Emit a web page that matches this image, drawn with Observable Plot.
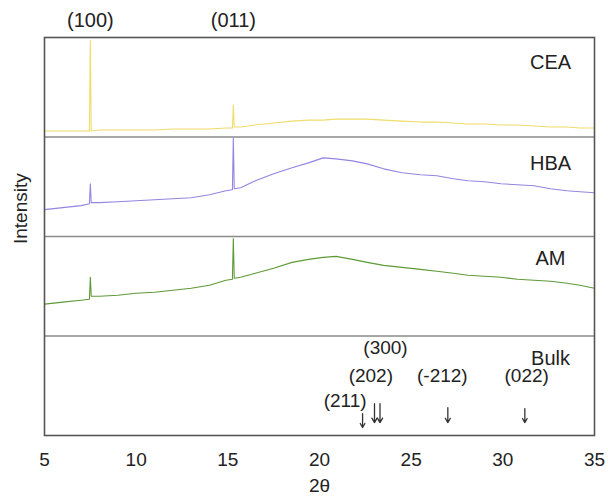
<!DOCTYPE html>
<html>
<head>
<meta charset="utf-8">
<script src="https://cdn.jsdelivr.net/npm/d3@7"></script>
<script src="https://cdn.jsdelivr.net/npm/@observablehq/plot@0.6"></script>
<style>
  html, body { margin: 0; padding: 0; background: #fff; }
  #chart { width: 608px; height: 496px; }
</style>
</head>
<body>
<div id="chart"></div>
<script>
// 2θ sample positions (degrees)
const twoTheta = [5, 6, 7, 7.45, 7.5, 7.55, 8, 9, 10, 11, 12, 13, 14, 14.9, 15.25, 15.3, 15.35, 15.7, 16.5, 17.5, 18.5, 19.4, 20.2, 20.9, 21.8, 22.6, 23.5, 24.5, 25.5, 26.4, 27.3, 28.1, 29, 29.9, 30.8, 31.7, 32.6, 33.5, 34.2, 35];
// intensities (arbitrary units, each panel spans 100)
const ceaI = [6, 6, 6, 6, 97, 6, 7, 7, 7, 7, 8, 8, 8, 9, 9, 32, 10, 10, 12, 14, 16, 17, 17, 18, 18, 18, 17, 16, 15, 15, 14, 13, 13, 12, 12, 11, 10, 10, 9, 9];
const hbaI = [27, 29, 31, 33, 53, 34, 34, 35, 36, 37, 38, 39, 42, 46, 47, 99, 48, 49, 56, 63, 69, 74, 79, 78, 76, 73, 68, 64, 62, 61, 58, 56, 55, 53, 52, 51, 48, 46, 45, 44];
const amI  = [32, 34, 36, 37, 59, 40, 40, 41, 43, 44, 46, 48, 51, 56, 57, 98, 58, 59, 63, 68, 74, 77, 79, 80, 77, 74, 71, 69, 67, 65, 63, 61, 60, 59, 57, 56, 55, 53, 51, 48];

const seriesNames = ["CEA", "HBA", "AM", "Bulk"];
const seriesOffsets = [300, 200, 100, 0];
const seriesColors = ["#f0dc6a", "#9683e2", "#5e9a36"];

// labelled reflections
const topPeakLabels = ["(100)", "(011)"];
const topPeakPos = [7.5, 15.3];

const bulkLabels = ["(211)", "(202)", "(300)", "(-212)", "(022)"];
const bulkPos = [22.35, 23.0, 23.3, 27.0, 31.2];

const xTicks = [5, 10, 15, 20, 25, 30, 35];

// build table
const curves = [ceaI, hbaI, amI];
const rows = [];
curves.forEach((arr, k) => {
  arr.forEach((v, i) => rows.push({t: twoTheta[i], v: v + seriesOffsets[k], s: seriesNames[k]}));
});

// layout helpers (not data)
const arrowTop = [22, 32, 32, 28, 27];
const arrowBot = [8, 13, 13, 13, 13];
const bulkLabelX = [21.4, 22.8, 23.6, 26.7, 31.3];
const bulkLabelY = [35, 60, 88, 60, 60];
const bulkArrows = bulkLabels.map((l, i) => ({l, t: bulkPos[i], y1: arrowTop[i], y2: arrowBot[i]}));
const bulkText = bulkLabels.map((l, i) => ({l, x: bulkLabelX[i], y: bulkLabelY[i]}));
const panelText = seriesNames.map((n, i) => ({n, y: seriesOffsets[i] + [75, 73, 78, 77][i]}));

const font = "'Liberation Sans', Arial, sans-serif";

const chart = Plot.plot({
  width: 608,
  height: 496,
  marginTop: 37,
  marginRight: 14,
  marginBottom: 61,
  marginLeft: 44,
  style: {fontFamily: font, fontSize: "17px", color: "#222", background: "#fff"},
  x: {domain: [5, 35]},
  y: {domain: [0, 400], axis: null},
  color: {domain: seriesNames.slice(0, 3), range: seriesColors},
  marks: [
    Plot.ruleY([100, 200, 300], {stroke: "#8a8a8a", strokeWidth: 1.3}),
    Plot.line(rows, {x: "t", y: "v", z: "s", stroke: "s", strokeWidth: 1.1, curve: "linear"}),
    Plot.frame({stroke: "#555", strokeWidth: 1.6}),
    Plot.axisX({ticks: xTicks, tickSize: 0, tickPadding: 17, fontSize: 19, label: null}),
    Plot.text(["2θ"], {frameAnchor: "bottom", dy: 50, fontSize: 19, lineAnchor: "middle"}),
    Plot.text(["Intensity"], {frameAnchor: "left", y: () => 228, rotate: -90, dx: -24, fontSize: 19, textAnchor: "middle", lineAnchor: "middle"}),
    Plot.text(topPeakLabels, {x: (d, i) => topPeakPos[i], y: () => 400, dy: -17, fontSize: 20, lineAnchor: "middle"}),
    Plot.text(panelText, {x: () => 32.6, y: "y", text: "n", fontSize: 20, lineAnchor: "middle"}),
    Plot.arrow(bulkArrows, {x1: "t", x2: "t", y1: "y1", y2: "y2", stroke: "#333", strokeWidth: 1.3, headLength: 6}),
    Plot.text(bulkText, {x: "x", y: "y", text: "l", fontSize: 19, lineAnchor: "middle"})
  ]
});
document.getElementById("chart").appendChild(chart);
</script>
</body>
</html>
